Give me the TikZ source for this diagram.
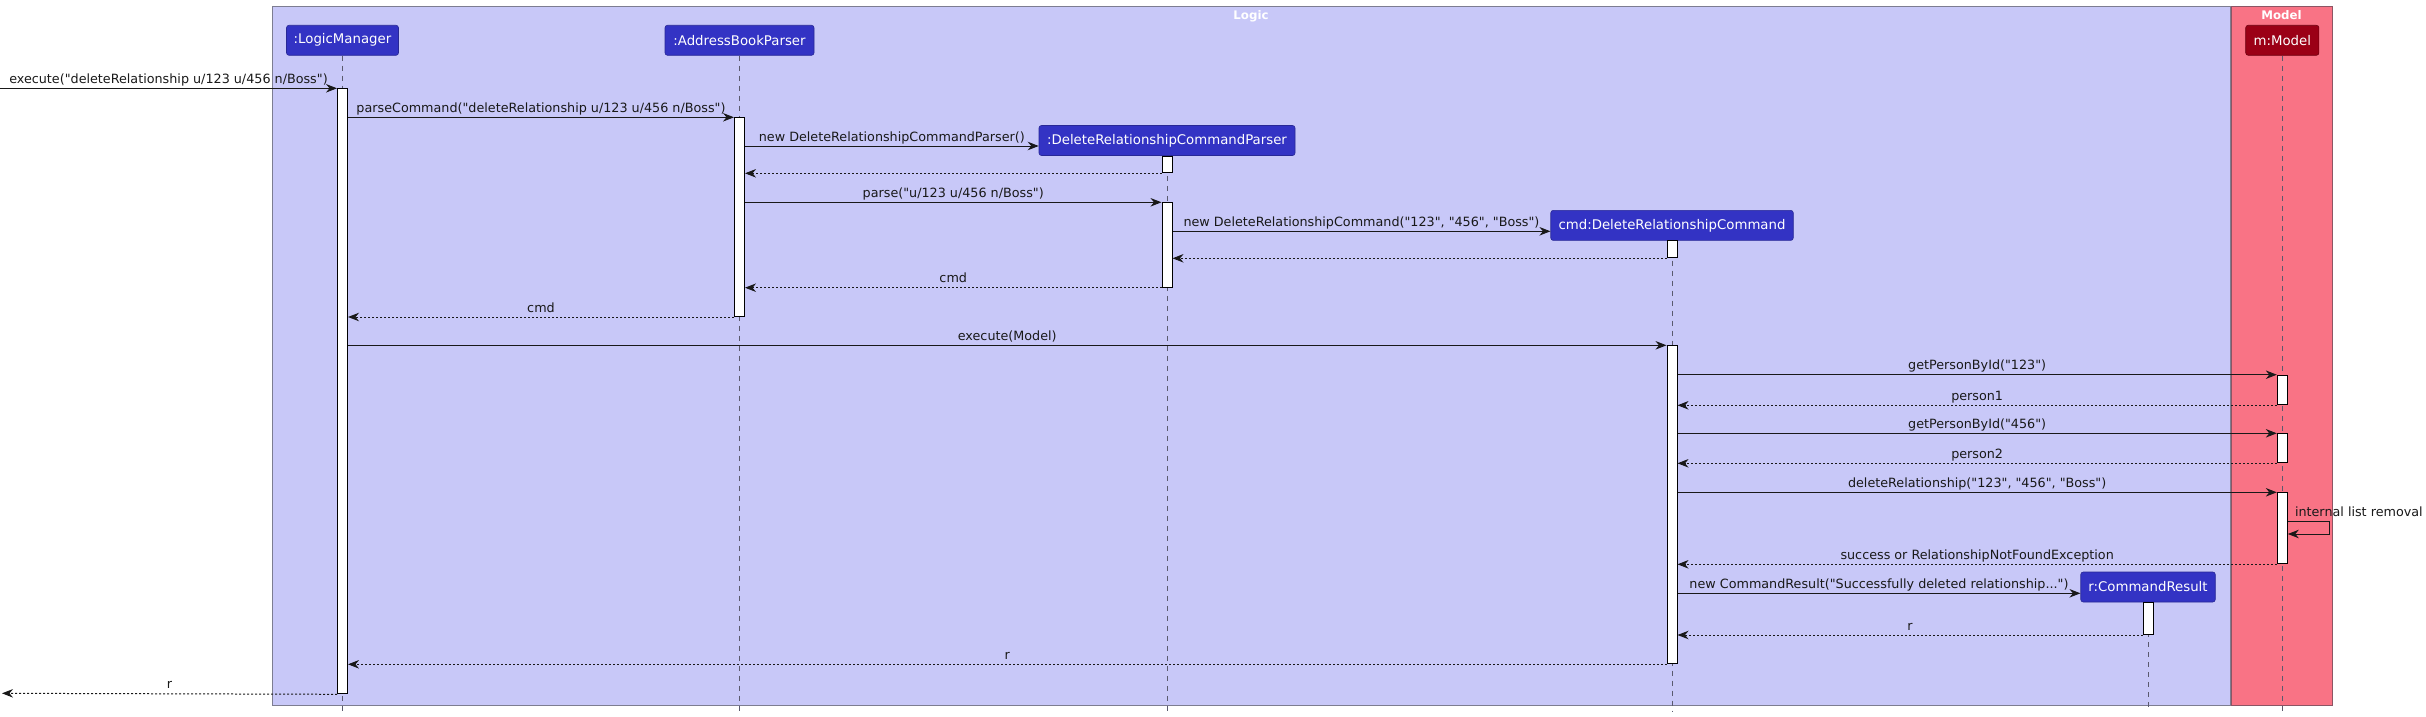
\documentclass[tikz,border=0pt]{standalone}
\usepackage{fontspec}
\setmainfont{DejaVu Sans}[Ligatures=TeXOff]
\usetikzlibrary{arrows.meta,calc}
\definecolor{logicbg}{RGB}{200,200,248}
\definecolor{logicbd}{RGB}{125,125,145}
\definecolor{modelbg}{RGB}{249,115,133}
\definecolor{modelbd}{RGB}{140,85,100}
\definecolor{partbg}{RGB}{51,51,196}
\definecolor{partbd}{RGB}{40,40,150}
\definecolor{mpartbg}{RGB}{155,0,22}
\definecolor{mpartbd}{RGB}{110,0,15}
\definecolor{lifec}{RGB}{90,90,110}
\definecolor{ink}{RGB}{25,25,25}
\begin{document}
\begin{tikzpicture}[x=1pt,y=-1pt,
  frame/.style={rectangle, line width=1pt, inner sep=0pt, anchor=north west},
  part/.style={rectangle, rounded corners=2.5pt, fill=partbg, draw=partbd, line width=0.6pt, text=white, minimum height=30pt, inner sep=0pt, font=\fontsize{13.3}{16}\selectfont},
  mpart/.style={part, fill=mpartbg, draw=mpartbd},
  act/.style={rectangle, draw=black, fill=white, line width=1pt, minimum width=10pt, inner sep=0pt, anchor=north},
  life/.style={draw=lifec, line width=0.7pt, dash pattern=on 5pt off 5pt},
  msg/.style={draw=ink, line width=1pt, -{Stealth[length=11pt,width=8.5pt,inset=3.5pt]}},
  ret/.style={msg, dash pattern=on 2pt off 2pt},
  lbl/.style={anchor=base, yshift=5pt, font=\fontsize{12.75}{15}\selectfont, text=ink, inner sep=0pt},
  ftitle/.style={text=white, font=\bfseries\fontsize{11.8}{14}\selectfont, anchor=base, inner sep=0pt}
]
\useasboundingbox (0,0) rectangle (2426,717);

% frames
\node[frame, fill=logicbg, draw=logicbd, minimum width=1957.6pt, minimum height=699pt] (logicF) at (272.4,6) {};
\node[frame, fill=modelbg, draw=modelbd, minimum width=101.3pt, minimum height=699pt] (modelF) at (2231,6) {};
\node[ftitle] (logicT) at (1251,19.5) {Logic};
\node[ftitle] (modelT) at (2281.5,19.5) {Model};

% participants
\node[part, minimum width=112pt] (lm) at (342.5,40.3) {:LogicManager};
\node[part, minimum width=149pt] (abp) at (739.5,40.3) {:AddressBookParser};
\node[part, minimum width=256pt] (drcp) at (1167,140.5) {:DeleteRelationshipCommandParser};
\node[part, minimum width=242.5pt] (drc) at (1672,225.4) {cmd:DeleteRelationshipCommand};
\node[part, minimum width=134.5pt] (cr) at (2148,587) {r:CommandResult};
\node[mpart, minimum width=73.2pt] (m) at (2282.3,40.3) {m:Model};

% lifeline ends
\coordinate (lmE) at (342.5,712);
\coordinate (abpE) at (739.5,712);
\coordinate (drcpE) at (1167,712);
\coordinate (drcE) at (1672,712);
\coordinate (crE) at (2148,712);
\coordinate (mE) at (2282.3,712);
\draw[life] (lm.south) -- (lmE);
\draw[life] (abp.south) -- (abpE);
\draw[life] (drcp.south) -- (drcpE);
\draw[life] (drc.south) -- (drcE);
\draw[life] (cr.south) -- (crE);
\draw[life] (m.south) -- (mE);

% activations
\node[act, minimum height=605pt] (lmA) at (342.5,88.3) {};
\node[act, minimum height=198.7pt] (abpA) at (739.5,117.3) {};
\node[act, minimum height=16.8pt] (drcpA1) at (1167,155.5) {};
\node[act, minimum height=84.4pt] (drcpA2) at (1167,202.3) {};
\node[act, minimum height=17.3pt] (drcA1) at (1672,240) {};
\node[act, minimum height=318pt] (drcA2) at (1672,345.3) {};
\node[act, minimum height=29.6pt] (mA1) at (2282.3,374.7) {};
\node[act, minimum height=29pt] (mA2) at (2282.3,433.3) {};
\node[act, minimum height=71pt] (mA3) at (2282.3,492.3) {};
\node[act, minimum height=31.7pt] (crA) at (2148,602.3) {};

% free ends / helper points
\coordinate (extIn) at (0,88.3);
\coordinate (extOut) at (2,693.3);
\coordinate (drcpIn) at ([yshift=-5.5pt]drcp.west);
\coordinate (drcIn) at ([yshift=-5.9pt]drc.west);
\coordinate (crIn) at ([yshift=-6.3pt]cr.west);
\coordinate (s1) at ([yshift=-29.2pt]mA3.north east);
\coordinate (s2) at ([yshift=-41.7pt]mA3.north east);

% messages
\draw[msg] (extIn) -- node[lbl] {execute("deleteRelationship u/123 u/456 n/Boss")} (lmA.north west);
\draw[msg] (lmA.east |- abpA.north) -- node[lbl] {parseCommand("deleteRelationship u/123 u/456 n/Boss")} (abpA.north west);
\draw[msg] (abpA.east |- drcpIn) -- node[lbl] {new DeleteRelationshipCommandParser()} (drcpIn);
\draw[ret] (drcpA1.south west) -- (abpA.east |- drcpA1.south);
\draw[msg] (abpA.east |- drcpA2.north) -- node[lbl] {parse("u/123 u/456 n/Boss")} (drcpA2.north west);
\draw[msg] (drcpA2.east |- drcIn) -- node[lbl] {new DeleteRelationshipCommand("123", "456", "Boss")} (drcIn);
\draw[ret] (drcA1.south west) -- (drcpA2.east |- drcA1.south);
\draw[ret] (drcpA2.south west) -- node[lbl] {cmd} (abpA.east |- drcpA2.south);
\draw[ret] (abpA.south west) -- node[lbl] {cmd} (lmA.east |- abpA.south);
\draw[msg] (lmA.east |- drcA2.north) -- node[lbl] {execute(Model)} (drcA2.north west);
\draw[msg] (drcA2.east |- mA1.north) -- node[lbl] {getPersonById("123")} (mA1.north west);
\draw[ret] (mA1.south west) -- node[lbl] {person1} (drcA2.east |- mA1.south);
\draw[msg] (drcA2.east |- mA2.north) -- node[lbl] {getPersonById("456")} (mA2.north west);
\draw[ret] (mA2.south west) -- node[lbl] {person2} (drcA2.east |- mA2.south);
\draw[msg] (drcA2.east |- mA3.north) -- node[lbl] {deleteRelationship("123", "456", "Boss")} (mA3.north west);
\draw[msg] (s1) -- ++(42,0) -- ++(0,12.5) -- (s2);
\node[lbl, anchor=base west, xshift=7pt] (ilr) at (s1) {internal list removal};
\draw[ret] (mA3.south west) -- node[lbl] {success or RelationshipNotFoundException} (drcA2.east |- mA3.south);
\draw[msg] (drcA2.east |- crIn) -- node[lbl] {new CommandResult("Successfully deleted relationship...")} (crIn);
\draw[ret] (crA.south west) -- node[lbl] {r} (drcA2.east |- crA.south);
\draw[ret] (drcA2.south west) -- node[lbl] {r} (lmA.east |- drcA2.south);
\draw[ret] (lmA.south west) -- node[lbl] {r} (extOut);
\end{tikzpicture}
\end{document}
